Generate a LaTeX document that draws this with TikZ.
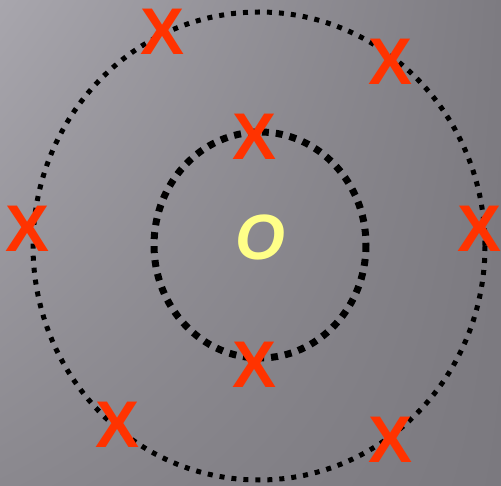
\documentclass[tikz,border=0pt]{standalone}
\usepackage{fontspec}
\setmainfont{Liberation Sans}
\usepackage{xcolor}
\usepackage{tikz}
\usetikzlibrary{positioning, shadings}

\definecolor{xred}{HTML}{FF3300}
\definecolor{oyellow}{HTML}{FFFF88}
\definecolor{bgtl}{HTML}{A8A6AD}
\definecolor{bgtr}{HTML}{7D7B81}
\definecolor{bgbl}{HTML}{8A888E}
\definecolor{bgbr}{HTML}{7B797F}

\tikzset{
  cross/.style={text=xred, inner sep=0pt, font=\fontsize{66}{66}\selectfont\bfseries},
  centre/.style={text=oyellow, inner sep=0pt, font=\fontsize{64}{64}\selectfont\bfseries\itshape},
  outerring/.style={line width=5pt, dash pattern=on 5pt off 7pt},
  innerring/.style={line width=7pt, dash pattern=on 7pt off 7pt}
}

\begin{document}
\begin{tikzpicture}[x=1pt, y=-1pt]
  % Background
  \shade[upper left=bgtl, upper right=bgtr, lower left=bgbl, lower right=bgbr]
    (0,0) rectangle (501,486);
  \useasboundingbox (0,0) rectangle (501,486);

  % Dotted rings
  \draw[outerring] (259,246) ellipse [x radius=226, y radius=234];
  \draw[innerring] (260,245) ellipse [x radius=106, y radius=113];

  % Centre label
  \node[centre] (o) at (260,237) {O};

  % Crosses on the rings
  \node[cross] (xtl) at (163,32) {X};
  \node[cross] (xtr) at (391,62) {X};
  \node[cross] (xit) at (255,137) {X};
  \node[cross] (xl)  at (28,229) {X};
  \node[cross] (xr)  at (480,229) {X};
  \node[cross] (xib) at (255,365) {X};
  \node[cross] (xbl) at (118,425) {X};
  \node[cross] (xbr) at (391,440) {X};
\end{tikzpicture}
\end{document}
